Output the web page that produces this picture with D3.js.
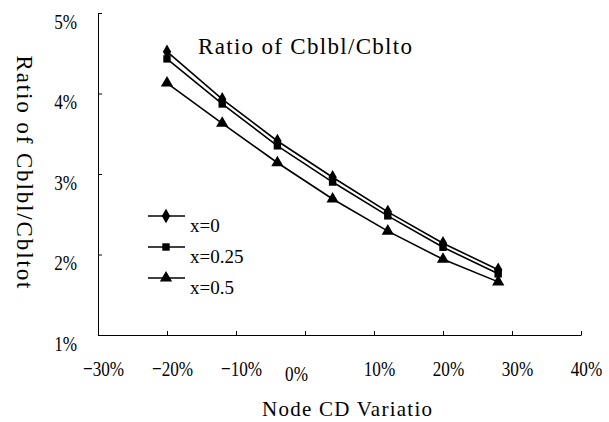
<!DOCTYPE html>
<html>
<head>
<meta charset="utf-8">
<script src="https://cdn.jsdelivr.net/npm/d3@7"></script>
<style>
  body { margin: 0; background: #fff; }
  svg { display: block; font-family: "Liberation Serif", "DejaVu Serif", serif; }
</style>
</head>
<body>
<div id="chart"></div>
<script>
const variation = [-0.20, -0.12, -0.04, 0.04, 0.12, 0.20, 0.28];
const seriesNames = ['x=0', 'x=0.25', 'x=0.5'];
const ratioX0 = [0.0452, 0.0393, 0.0341, 0.0296, 0.0253, 0.0214, 0.0181];
const ratioX025 = [0.0443, 0.0387, 0.0335, 0.0290, 0.0248, 0.0209, 0.0176];
const ratioX05 = [0.0413, 0.0363, 0.0314, 0.0269, 0.0229, 0.0194, 0.0166];
const xTicks = [-0.3, -0.2, -0.1, 0, 0.1, 0.2, 0.3, 0.4];
const yTicks = [0.01, 0.02, 0.03, 0.04, 0.05];

const width = 609, height = 422;
const svg = d3.select('#chart').append('svg')
  .attr('width', width)
  .attr('height', height);

const x = d3.scaleLinear().domain([-0.3, 0.4]).range([98, 581]);
const y = d3.scaleLinear().domain([0.01, 0.05]).range([335, 13]);
const pct = d3.format('.0%');
const sx = 0.78; // tick labels are narrow in the original

// x axis
const gx = svg.append('g')
  .attr('transform', 'translate(0,335)')
  .call(d3.axisBottom(x).tickValues(xTicks).tickSizeInner(-4).tickSizeOuter(0).tickFormat(pct))
  .attr('font-family', null)
  .attr('font-size', null);
gx.select('.domain').attr('stroke', '#000');
gx.selectAll('.tick line').attr('stroke', '#000');
gx.selectAll('.tick text')
  .attr('fill', '#000')
  .style('font-size', '22px')
  .attr('dy', 0)
  .attr('y', d => d === 0 ? 46 : 41)
  .attr('x', d => (d === 0 ? -9 : 5) / sx)
  .attr('transform', `scale(${sx},1)`);

// y axis
const gy = svg.append('g')
  .attr('transform', 'translate(98,0)')
  .call(d3.axisLeft(y).tickValues(yTicks).tickSizeInner(-4).tickSizeOuter(0).tickFormat(pct))
  .attr('font-family', null)
  .attr('font-size', null);
gy.select('.domain').attr('stroke', '#000');
gy.selectAll('.tick line').attr('stroke', '#000');
gy.selectAll('.tick text')
  .attr('fill', '#000')
  .style('font-size', '22px')
  .attr('dy', 0)
  .attr('y', 15)
  .attr('x', -21 / sx)
  .attr('transform', `scale(${sx},1)`);

// titles
svg.append('text')
  .attr('x', 198).attr('y', 54)
  .attr('textLength', 214).attr('lengthAdjust', 'spacing')
  .style('font-size', '23px')
  .text('Ratio of Cblbl/Cblto');

svg.append('text')
  .attr('transform', 'translate(17,172) rotate(90)')
  .attr('text-anchor', 'middle')
  .attr('textLength', 233).attr('lengthAdjust', 'spacing')
  .style('font-size', '23px')
  .text('Ratio of Cblbl/Cbltot');

svg.append('text')
  .attr('x', 262).attr('y', 416)
  .attr('textLength', 170).attr('lengthAdjust', 'spacing')
  .style('font-size', '21px')
  .text('Node CD Variatio');

// series
const series = [
  { name: seriesNames[0], values: ratioX0, symbol: d3.symbolDiamond, size: 60 },
  { name: seriesNames[1], values: ratioX025, symbol: d3.symbolSquare, size: 55 },
  { name: seriesNames[2], values: ratioX05, symbol: d3.symbolTriangle, size: 65 }
];

const line = d3.line()
  .x((d, i) => x(variation[i]))
  .y(d => y(d));

series.forEach(s => {
  svg.append('path')
    .datum(s.values)
    .attr('fill', 'none')
    .attr('stroke', '#000')
    .attr('stroke-width', 1.6)
    .attr('d', line);

  svg.append('g')
    .selectAll('path')
    .data(s.values)
    .join('path')
    .attr('transform', (d, i) => `translate(${x(variation[i])},${y(d)})`)
    .attr('d', d3.symbol().type(s.symbol).size(s.size))
    .attr('fill', '#000');
});

// legend
const legend = svg.append('g')
  .selectAll('g')
  .data(series)
  .join('g')
  .attr('transform', (d, i) => `translate(0,${216 + i * 31})`);

legend.append('line')
  .attr('x1', 148).attr('x2', 185)
  .attr('stroke', '#000')
  .attr('stroke-width', 1.6);

legend.append('path')
  .attr('transform', 'translate(166,0)')
  .attr('d', d => d3.symbol().type(d.symbol).size(d.size)())
  .attr('fill', '#000');

legend.append('text')
  .attr('x', 190).attr('y', 16)
  .style('font-size', '19px')
  .text(d => d.name);
</script>
</body>
</html>
